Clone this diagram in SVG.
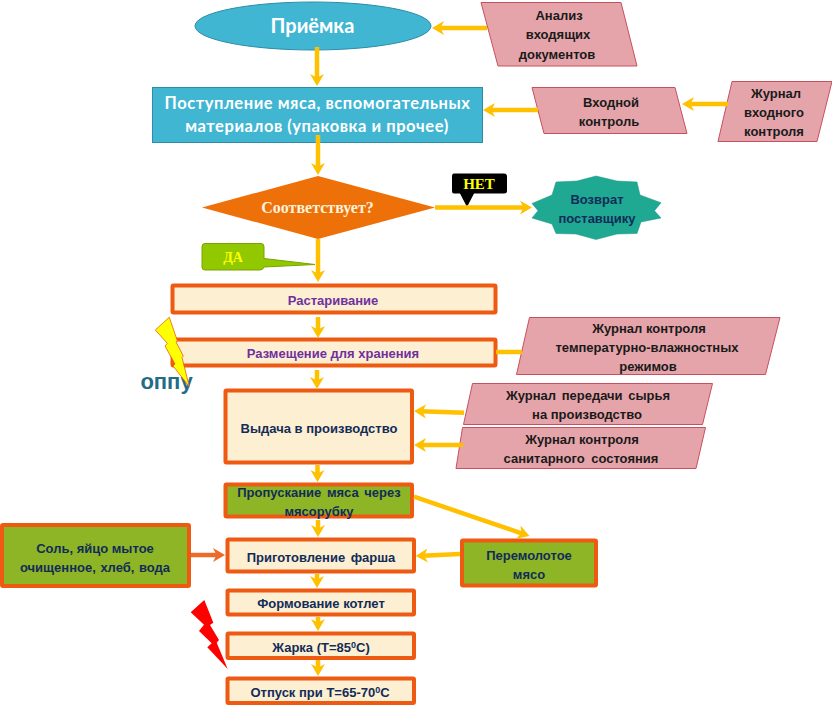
<svg xmlns="http://www.w3.org/2000/svg" width="832" height="710" viewBox="0 0 832 710">
<style>
text{text-anchor:middle;font-family:"Liberation Sans",Arial,sans-serif;font-weight:700;font-size:13px}
.k{fill:#1a1a1a}
.n{fill:#122c58}
.p{fill:#7030a0}
.w{fill:#fff;font-family:Lato,"Liberation Sans",sans-serif}
.s{font-family:"Liberation Serif","Times New Roman",serif}
.pg{fill:#e5a4aa;stroke:#c8505e;stroke-width:1}
.b{fill:#fdefd1;stroke:#ee5a12;stroke-width:4}
.g{fill:#8db526;stroke:#ee5a12;stroke-width:4}
.c{fill:none;stroke:#ffc000;stroke-width:4.500;marker-end:url(#a)}
.l{fill:none;stroke:#ffc000;stroke-width:4.500}
</style>
<defs>
<marker id="a" markerUnits="userSpaceOnUse" markerWidth="16" markerHeight="16" refX="5" refY="8" orient="auto"><path d="M0,1 L12,8 L0,15 L3.500,8z" fill="#ffc000"/></marker>
<marker id="o" markerUnits="userSpaceOnUse" markerWidth="16" markerHeight="16" refX="5" refY="8" orient="auto"><path d="M0,1 L12,8 L0,15 L3.500,8z" fill="#ed6a2b"/></marker>
</defs>
<g id="priemka"><ellipse cx="313" cy="26" rx="118" ry="24" fill="#41b6d3" stroke="#2e8ca5"/><text class="w" x="312.500" y="33" style="font-size:20px">Приёмка</text></g>
<g id="postuplenie"><rect x="152.500" y="87.500" width="330" height="55" fill="#41b6d3" stroke="#2e8ca5"/><text class="w" x="317.500" y="109" style="font-size:16.500px;letter-spacing:.55px">Поступление мяса, вспомогательных</text><text class="w" x="317" y="132" style="font-size:16.500px;letter-spacing:.55px">материалов (упаковка и прочее)</text></g>
<g id="sootv"><polygon points="202,207.500 318,176 435,207.500 318,239" fill="#ee7008"/><text class="s" x="317.500" y="213" style="font-size:16px;fill:#fdf3dc">Соответствует?</text></g>
<g id="da"><path d="M205,243.500 H261 Q264,243.500 264,246.500 V258.500 L315,264.500 L264,267 Q263,270 260,270 H205 Q202,270 202,267 V246.500 Q202,243.500 205,243.500z" fill="#92c800" stroke="#7ba300"/><text class="s" x="233" y="262" style="font-size:14px;fill:#ffff00">ДА</text></g>
<g id="net"><path d="M454,173.500 H504 Q507,173.500 507,176.500 V191 Q507,193.500 504,193.500 H474 L467,207 L460,193.500 H454 Q452,193.500 452,191 V176.500 Q452,173.500 454,173.500z" fill="#000"/><text class="s" x="479" y="189" style="font-size:15px;fill:#ffff00">НЕТ</text></g>
<g id="vozvrat"><polygon points="596,176 577,181 556,182 552,195 532,203.500 538,210.700 532,218 552,224 556,233.500 576,234 596,239.500 617,234 637,233.500 641,222 661,218 654.500,210.700 661,202.700 640,195 637,182 617,181" fill="#1fa892" stroke="#1a9481" stroke-width=".5"/><text class="n" x="597" y="204">Возврат</text><text class="n" x="597" y="223">поставщику</text></g>
<g id="analiz"><polygon class="pg" points="481,2.500 621,2.500 637,66 498,66"/><text class="k" x="559" y="20">Анализ</text><text class="k" x="558" y="39">входящих</text><text class="k" x="557" y="59">документов</text></g>
<g id="vhodnoy"><polygon class="pg" points="532,87.500 675,87.500 687,133.500 544,133.500"/><text class="k" x="611" y="107">Входной</text><text class="k" x="609" y="126">контроль</text></g>
<g id="zhurnal-vhod"><polygon class="pg" points="732,81.500 832,81.500 817,141.500 718,141.500"/><text class="k" x="776" y="98">Журнал</text><text class="k" x="774" y="117">входного</text><text class="k" x="774" y="136">контроля</text></g>
<g id="rastar"><rect class="b" x="172.500" y="285.500" width="323" height="27" rx="1"/><text class="p" x="333" y="305">Растаривание</text></g>
<g id="razm"><rect class="b" x="172.500" y="339.500" width="323" height="26" rx="1"/><text class="p" x="333" y="358">Размещение для хранения</text></g>
<g id="zhurnal-temp"><polygon class="pg" points="529.500,317.500 780,317.500 765.500,374.500 516.500,374.500"/><text class="k" x="649" y="333">Журнал контроля</text><text class="k" x="647" y="352">температурно-влажностных</text><text class="k" x="648" y="371">режимов</text></g>
<g id="vydacha"><rect class="b" x="225.500" y="390.500" width="186.500" height="72" rx="1"/><text class="n" x="319" y="433">Выдача в производство</text></g>
<g id="zhurnal-per"><polygon class="pg" points="472.500,383.500 712.500,383.500 702.500,424.500 463.500,424.500"/><text class="k" x="588" y="400" style="word-spacing:2px">Журнал передачи сырья</text><text class="k" x="587" y="419">на производство</text></g>
<g id="zhurnal-san"><polygon class="pg" points="462.500,427.500 705.500,427.500 696,468.500 456,468.500"/><text class="k" x="582" y="444">Журнал контроля</text><text class="k" x="581" y="463" style="word-spacing:3px">санитарного состояния</text></g>
<g id="propusk"><rect class="g" x="225.500" y="484.500" width="186.500" height="32" rx="1"/><text class="n" x="319" y="497" style="word-spacing:2px">Пропускание мяса через</text><text class="n" x="319" y="516">мясорубку</text></g>
<g id="prigot"><rect class="b" x="227.500" y="539.500" width="186.500" height="32" rx="1"/><text class="n" x="321" y="562" style="word-spacing:2px">Приготовление фарша</text></g>
<g id="peremol"><rect class="g" x="462" y="540.500" width="134" height="45" rx="1"/><text class="n" x="529" y="560">Перемолотое</text><text class="n" x="529" y="579">мясо</text></g>
<g id="sol"><rect class="g" x="2" y="525" width="187" height="61" rx="1"/><text class="n" x="95" y="553">Соль, яйцо мытое</text><text class="n" x="95" y="572" style="word-spacing:1px">очищенное, хлеб, вода</text></g>
<g id="formov"><rect class="b" x="227.500" y="590.500" width="186.500" height="24" rx="1"/><text class="n" x="321" y="608">Формование котлет</text></g>
<g id="zharka"><rect class="b" x="227.500" y="633.500" width="186.500" height="24.500" rx="1"/><text class="n" x="321" y="652">Жарка (Т=85<tspan dy="-4" style="font-size:9px">0</tspan><tspan dy="4">С)</tspan></text></g>
<g id="otpusk"><rect class="b" x="227.500" y="678.500" width="186.500" height="24.500" rx="1"/><text class="n" x="320" y="697">Отпуск при Т=65-70<tspan dy="-4" style="font-size:9px">0</tspan><tspan dy="4">С</tspan></text></g>
<g id="connectors">
<path class="c" d="M487,28 H439"/>
<path class="c" d="M317,47 V79"/>
<path class="c" d="M538,110 H490"/>
<path class="c" d="M728,104 H689"/>
<path class="c" d="M318,135 V168"/>
<path class="c" d="M435,207.500 H525"/>
<path class="c" d="M318,239 V275"/>
<path class="c" d="M318,317 V331"/>
<path class="l" d="M496,352 H522"/>
<path class="c" d="M317,370 V382"/>
<path class="c" d="M464,412.800 L421,411.200"/>
<path class="c" d="M463,445 H421"/>
<path class="c" d="M317.500,465 V475"/>
<path class="c" d="M318,520 V530"/>
<path class="c" d="M414,496.700 L522.900,533.800"/>
<path class="c" d="M460,554 L422.700,555.700"/>
<path d="M191,555 H218" fill="none" stroke="#ed6a2b" stroke-width="4.500" marker-end="url(#o)"/>
<path class="c" d="M317,574 V581"/>
<path class="c" d="M318,617 V624"/>
<path class="c" d="M318,660 V669"/>
</g>
<g id="oppu"><text x="166.500" y="389" style="font-size:22px;fill:#236c87">оппу</text><polygon points="169.300,317.300 177.300,340.700 176,342 183.300,356 182,357.500 189.300,386.700 173,366 175,364 165,346 167.300,343.300 155.300,330" fill="#ffff00" stroke="#ee5a12" stroke-width=".8"/></g>
<g id="bolt"><polygon points="204.300,600 213.300,622.700 210,625 219,640 216.700,642.700 227.700,669 207.300,647.300 211.700,643.300 199,631 204,624.700 190.700,612.300" fill="#ff0000"/></g>
</svg>
